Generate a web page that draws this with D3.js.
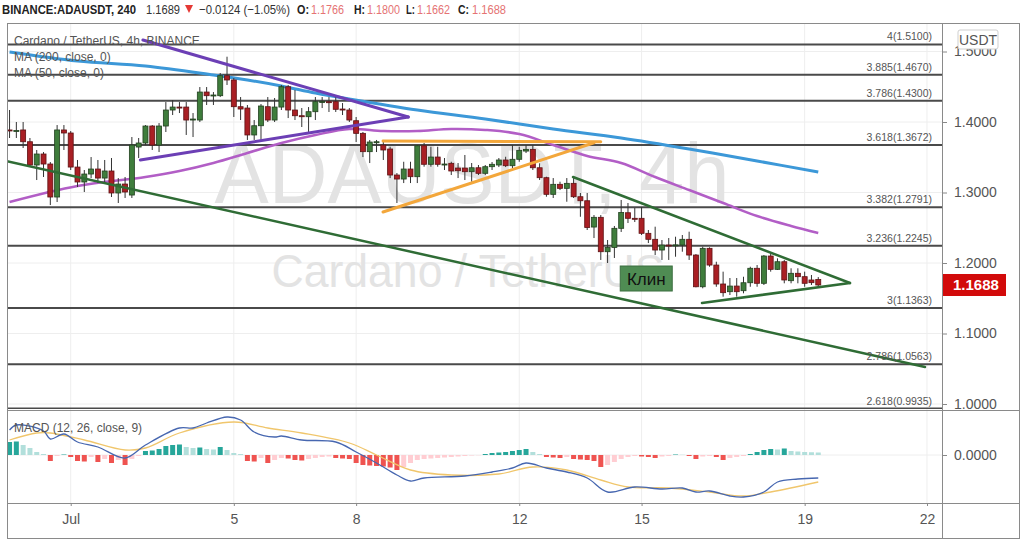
<!DOCTYPE html>
<html>
<head>
<meta charset="utf-8">
<script src="https://cdn.jsdelivr.net/npm/d3@7"></script>
<style>
  body { margin: 0; background: #fff; }
  svg { display: block; font-family: "Liberation Sans", Arial, sans-serif; }
</style>
</head>
<body>
<svg id="chart" width="1024" height="543"></svg>
<script>
// ---- data (4h candles, Jun 29 12:00 UTC .. Jul 19 08:00 UTC) ----
const firstCandle = Date.UTC(2021, 5, 29, 12)
const opens = [
  1.3887,1.3875,1.3887,1.3720,1.3390,1.3546,1.3404,1.2936,1.3887,1.3844,
  1.3361,1.3149,1.3262,1.3333,1.3205,1.3305,1.2993,1.3120,1.2964,1.3645,
  1.3702,1.3943,1.3673,1.3943,1.4170,1.4212,1.4212,1.4028,1.4028,1.4425,
  1.4373,1.4373,1.4657,1.4596,1.4217,1.4198,1.3816,1.3947,1.4217,1.4028,
  1.4212,1.4500,1.4170,1.4089,1.4075,1.4146,1.4288,1.4288,1.4288,1.4184,
  1.4170,1.4018,1.3839,1.3579,1.3716,1.3673,1.3617,1.3248,1.3191,1.3333,
  1.3224,1.3663,1.3400,1.3503,1.3400,1.3414,1.3347,1.3347,1.3295,1.3351,
  1.3272,1.3366,1.3390,1.3461,1.3380,1.3471,1.3588,1.3612,1.3351,1.3210,
  1.2974,1.3116,1.3059,1.3130,1.2940,1.2883,1.2510,1.2648,1.2160,1.2220,
  1.2492,1.2713,1.2634,1.2634,1.2421,1.2336,1.2184,1.2255,1.2253,1.2255,
  1.2336,1.2113,1.1663,1.2208,1.1971,1.1702,1.1593,1.1673,1.1607,1.1720,
  1.1925,1.1712,1.2099,1.1910,1.2018,1.1749,1.1854,1.1806,1.1759,1.1766
]
const highs = [
  1.4170,1.4000,1.4000,1.3773,1.3603,1.3574,1.3432,1.3957,1.3957,1.3872,
  1.3461,1.3319,1.3503,1.3461,1.3461,1.3489,1.3205,1.3220,1.3787,1.3773,
  1.3957,1.3957,1.3985,1.4283,1.4312,1.4283,1.4283,1.4127,1.4496,1.4496,
  1.4425,1.4695,1.4926,1.4624,1.4354,1.4241,1.4028,1.4255,1.4354,1.4340,
  1.4524,1.4524,1.4454,1.4198,1.4212,1.4354,1.4354,1.4354,1.4354,1.4269,
  1.4198,1.4071,1.3858,1.3745,1.3745,1.3745,1.3649,1.3276,1.3436,1.3436,
  1.3673,1.3702,1.3649,1.3649,1.3489,1.3436,1.3418,1.3532,1.3418,1.3390,
  1.3390,1.3432,1.3489,1.3507,1.3673,1.3649,1.3673,1.3673,1.3414,1.3224,
  1.3205,1.3153,1.3205,1.3205,1.2993,1.2993,1.2680,1.2680,1.2326,1.2525,
  1.2894,1.2851,1.2780,1.2794,1.2468,1.2515,1.2326,1.2354,1.2373,1.2397,
  1.2444,1.2127,1.2231,1.2222,1.2018,1.1877,1.1787,1.1787,1.1805,1.1947,
  1.1971,1.2113,1.2137,1.2066,1.2043,1.1925,1.1925,1.1877,1.1830,1.1800
]
const lows = [
  1.3773,1.3773,1.3631,1.3361,1.3177,1.3220,1.2822,1.2865,1.3603,1.3319,
  1.3078,1.3007,1.3205,1.3134,1.3134,1.2936,1.2851,1.2922,1.2922,1.3489,
  1.3673,1.3603,1.3574,1.3858,1.4099,1.4127,1.3816,1.3787,1.4000,1.4241,
  1.4241,1.4354,1.4525,1.4071,1.4028,1.3745,1.3745,1.3745,1.4000,1.4000,
  1.4170,1.4056,1.4028,1.3929,1.3858,1.4028,1.4198,1.4142,1.4142,1.4099,
  1.4000,1.3716,1.3503,1.3418,1.3574,1.3461,1.3205,1.2851,1.3134,1.3134,
  1.3134,1.3366,1.3366,1.3366,1.3319,1.3248,1.3205,1.3177,1.3153,1.3248,
  1.3248,1.3319,1.3361,1.3361,1.3347,1.3436,1.3560,1.3319,1.3177,1.2940,
  1.2922,1.3035,1.2869,1.2922,1.2656,1.2468,1.2354,1.2043,1.2000,1.2071,
  1.2440,1.2567,1.2581,1.2397,1.2283,1.2113,1.2043,1.2043,1.2089,1.2160,
  1.2043,1.1655,1.1641,1.1947,1.1663,1.1522,1.1546,1.1522,1.1570,1.1663,
  1.1663,1.1688,1.1877,1.1901,1.1712,1.1712,1.1712,1.1663,1.1688,1.1662
]
const closes = [
  1.3873,1.3880,1.3720,1.3390,1.3546,1.3404,1.2936,1.3887,1.3844,1.3361,
  1.3149,1.3262,1.3333,1.3205,1.3305,1.2993,1.3120,1.3007,1.3673,1.3702,
  1.3943,1.3673,1.3943,1.4170,1.4212,1.4205,1.4028,1.4042,1.4425,1.4373,
  1.4383,1.4657,1.4596,1.4217,1.4184,1.3816,1.3947,1.4227,1.4028,1.4212,
  1.4500,1.4170,1.4089,1.4085,1.4146,1.4288,1.4290,1.4285,1.4180,1.4177,
  1.4028,1.3839,1.3579,1.3716,1.3720,1.3603,1.3248,1.3191,1.3333,1.3224,
  1.3663,1.3400,1.3503,1.3400,1.3404,1.3305,1.3309,1.3295,1.3351,1.3272,
  1.3366,1.3400,1.3461,1.3380,1.3471,1.3598,1.3612,1.3351,1.3210,1.2974,
  1.3116,1.3059,1.3130,1.2940,1.2883,1.2503,1.2648,1.2160,1.2220,1.2492,
  1.2716,1.2634,1.2631,1.2421,1.2336,1.2184,1.2255,1.2253,1.2257,1.2336,
  1.2113,1.1663,1.2208,1.1971,1.1702,1.1579,1.1673,1.1593,1.1720,1.1925,
  1.1712,1.2099,1.1910,1.2018,1.1759,1.1854,1.1806,1.1712,1.1721,1.1688
]

// moving averages (sampled at candle indexes)
const ma200Idx = [0,10,20,30,35,40,45,50,60,70,80,90,100,110,119]
const ma200Val = [1.4993,1.4865,1.4794,1.4667,1.4596,1.4511,1.4411,1.4326,1.4170,1.4043,1.3901,1.3773,1.3617,1.3447,1.3291]
const ma50Idx = [0,10,20,25,30,35,40,45,50,55,60,65,70,75,80,85,90,95,100,105,110,115,119]
const ma50Val = [1.2865,1.3092,1.3220,1.3305,1.3419,1.3561,1.3702,1.3816,1.3901,1.3872,1.3872,1.3901,1.3887,1.3830,1.3674,1.3518,1.3419,1.3220,1.3035,1.2851,1.2666,1.2525,1.2426]

// MACD panel
const macdIdx = [0,1,5,6,8,10,13,17,20,25,27,29,32,34,36,39,40,43,48,51,54,57,59,61,67,71,74,76,79,82,85,88,92,96,99,101,103,106,108,111,113,116,119]
const macdVal = [0.0100,0.0120,0.0096,0.0064,0.0084,0.0052,0.0032,-0.0012,0.0040,0.0108,0.0108,0.0128,0.0152,0.0140,0.0092,0.0072,0.0076,0.0060,0.0052,0.0012,-0.0032,-0.0080,-0.0104,-0.0092,-0.0084,-0.0068,-0.0052,-0.0032,-0.0052,-0.0068,-0.0092,-0.0148,-0.0128,-0.0136,-0.0132,-0.0148,-0.0144,-0.0164,-0.0168,-0.0148,-0.0108,-0.0096,-0.0092]
const signalIdx = [0,4,6,11,17,20,25,33,38,43,50,54,59,65,72,77,82,87,91,97,103,108,112,119]
const signalVal = [0.0060,0.0088,0.0088,0.0060,0.0020,0.0028,0.0088,0.0132,0.0108,0.0088,0.0048,0.0000,-0.0060,-0.0080,-0.0076,-0.0048,-0.0060,-0.0100,-0.0128,-0.0132,-0.0148,-0.0164,-0.0148,-0.0108]
const hist = [
  0.0052,0.0054,0.0040,0.0028,0.0012,0.0004,-0.0024,-0.0004,0.0002,-0.0008,
  -0.0024,-0.0026,-0.0008,-0.0028,-0.0016,-0.0032,-0.0020,-0.0040,-0.0016,-0.0004,
  0.0016,0.0018,0.0024,0.0036,0.0040,0.0042,0.0032,0.0028,0.0030,0.0024,
  0.0022,0.0032,0.0020,0.0008,0.0004,-0.0024,-0.0026,-0.0012,-0.0032,-0.0020,
  -0.0012,-0.0014,-0.0020,-0.0022,-0.0016,-0.0012,-0.0008,-0.0006,-0.0012,-0.0014,
  -0.0016,-0.0032,-0.0040,-0.0042,-0.0044,-0.0046,-0.0050,-0.0060,-0.0048,-0.0032,
  -0.0020,-0.0016,-0.0014,-0.0012,-0.0010,-0.0008,-0.0006,-0.0004,-0.0002,-0.0001,
  0.0004,0.0008,0.0010,0.0012,0.0016,0.0020,0.0024,0.0012,0.0004,-0.0008,
  -0.0010,-0.0012,-0.0008,-0.0016,-0.0018,-0.0020,-0.0024,-0.0048,-0.0040,-0.0028,
  -0.0016,-0.0008,-0.0004,-0.0006,-0.0008,-0.0012,-0.0006,-0.0004,0.0002,0.0001,
  -0.0004,-0.0016,-0.0006,-0.0004,-0.0008,-0.0020,-0.0012,-0.0008,-0.0004,0.0004,
  0.0012,0.0020,0.0024,0.0022,0.0026,0.0016,0.0014,0.0012,0.0011,0.0010
]

// fibonacci extension levels
const fibLevels = ["4", "3.885", "3.786", "3.618", "3.382", "3.236", "3", "2.786", "2.618"]
const fibPrices = [1.5100, 1.4670, 1.4300, 1.3672, 1.2791, 1.2245, 1.1363, 1.0563, 0.9935]

// axis ticks
const priceTicks = [1.0, 1.1, 1.2, 1.3, 1.4, 1.5]
const dateTicks = [Date.UTC(2021,6,1), Date.UTC(2021,6,5), Date.UTC(2021,6,8), Date.UTC(2021,6,12), Date.UTC(2021,6,15), Date.UTC(2021,6,19), Date.UTC(2021,6,22)]
const dateTickLabels = ["Jul", "5", "8", "12", "15", "19", "22"]

// hand drawn lines: [time, price] pairs
const purpleLines = [
  [[Date.UTC(2021,6,2,18,30), 1.5163], [Date.UTC(2021,6,9,6,40), 1.4071]],
  [[Date.UTC(2021,6,2,17,0), 1.3461], [Date.UTC(2021,6,9,6,40), 1.4071]]
]
const orangeLines = [
  [[Date.UTC(2021,6,8,15,50), 1.3731], [Date.UTC(2021,6,14,0,0), 1.3720]],
  [[Date.UTC(2021,6,8,15,50), 1.2723], [Date.UTC(2021,6,13,20,0), 1.3705]]
]
const greenLines = [
  [[Date.UTC(2021,6,13,7,40), 1.3220], [Date.UTC(2021,6,20,2,40), 1.1716]],
  [[Date.UTC(2021,6,16,11,35), 1.1433], [Date.UTC(2021,6,20,2,40), 1.1716]],
  [[Date.UTC(2021,5,29,10,30), 1.3444], [Date.UTC(2021,6,21,22,50), 1.0525]]
]
const wedgeLabel = { text: "Клин", t: Date.UTC(2021,6,15,2,45), p: 1.1780 }
const lastPrice = 1.1688

// ---- layout ----
const svg = d3.select("#chart")
const L = 7, R = 942, T = 23, MAIN_B = 409, MACD_B = 503, BOTTOM = 538, RIGHT = 1019
const H4 = 4 * 3600e3
const dates = opens.map((d, i) => new Date(firstCandle + i * H4))

const xScale = d3.scaleUtc()
  .domain([new Date(Date.UTC(2021,5,29,10,30)), new Date(Date.UTC(2021,6,22,8,50))])
  .range([L, R])
const yScale = d3.scaleLinear().domain([1.0, 1.5]).range([404, 51.5])
const yMacd = d3.scaleLinear().domain([-0.0192, 0.0184]).range([MACD_B, MAIN_B])

svg.append("defs").append("clipPath").attr("id", "mainClip")
  .append("rect").attr("x", L).attr("y", T).attr("width", R - L).attr("height", MAIN_B - T)

// grid
const grid = svg.append("g")
grid.selectAll(".hg").data(priceTicks).enter().append("line")
  .attr("x1", L).attr("x2", R).attr("y1", d => yScale(d)).attr("y2", d => yScale(d))
  .attr("stroke", "#eeeeee")
grid.selectAll(".vg").data(dateTicks).enter().append("line")
  .attr("x1", d => xScale(d)).attr("x2", d => xScale(d)).attr("y1", T).attr("y2", MACD_B)
  .attr("stroke", "#eeeeee")

// watermark
svg.append("text").attr("x", 472).attr("y", 203).attr("text-anchor", "middle")
  .attr("font-size", 86).attr("fill", "#e3e3e3")
  .attr("textLength", 515).attr("lengthAdjust", "spacingAndGlyphs")
  .text("ADAUSDT, 4h")
svg.append("text").attr("x", 468).attr("y", 287).attr("text-anchor", "middle")
  .attr("font-size", 46).attr("fill", "#e3e3e3")
  .attr("textLength", 393).attr("lengthAdjust", "spacingAndGlyphs")
  .text("Cardano / TetherUS")

const main = svg.append("g").attr("clip-path", "url(#mainClip)")

// fib lines
main.selectAll(".fib").data(fibPrices).enter().append("line")
  .attr("x1", L).attr("x2", R).attr("y1", d => yScale(d)).attr("y2", d => yScale(d))
  .attr("stroke", "#4a4a4a").attr("stroke-width", 2)
svg.selectAll(".fibl").data(fibPrices).enter().append("text")
  .attr("x", 932).attr("y", d => yScale(d) - 4).attr("text-anchor", "end")
  .attr("font-size", 10.5).attr("fill", "#555")
  .text((d, i) => fibLevels[i] + "(" + d.toFixed(4) + ")")

// moving averages
const curve = d3.line().curve(d3.curveCatmullRom)
main.append("path")
  .attr("d", curve(ma200Idx.map((idx, k) => [xScale(dates[idx]), yScale(ma200Val[k])])))
  .attr("fill", "none").attr("stroke", "#3c98d8").attr("stroke-width", 3)
main.append("path")
  .attr("d", curve(ma50Idx.map((idx, k) => [xScale(dates[idx]), yScale(ma50Val[k])])))
  .attr("fill", "none").attr("stroke", "#b25ec6").attr("stroke-width", 2.5)

// candles
const candles = main.selectAll(".candle").data(dates).enter().append("g")
candles.append("line")
  .attr("x1", d => xScale(d)).attr("x2", d => xScale(d))
  .attr("y1", (d, i) => yScale(highs[i])).attr("y2", (d, i) => yScale(lows[i]))
  .attr("stroke", "#333").attr("stroke-width", 1)
candles.append("rect")
  .attr("x", d => xScale(d) - 2.5).attr("width", 5)
  .attr("y", (d, i) => yScale(Math.max(opens[i], closes[i])))
  .attr("height", (d, i) => Math.max(1, Math.abs(yScale(opens[i]) - yScale(closes[i]))))
  .attr("fill", (d, i) => closes[i] >= opens[i] ? "#3f7d3c" : "#a91f24")
  .attr("stroke", (d, i) => closes[i] >= opens[i] ? "#22401f" : "#5e1214")
  .attr("stroke-width", 0.8)

// hand drawn lines
const seg = d3.line().x(d => xScale(d[0])).y(d => yScale(d[1]))
const drawLines = (lines, color, w) => {
  main.selectAll(null).data(lines).enter().append("path")
    .attr("d", seg).attr("fill", "none").attr("stroke", color)
    .attr("stroke-width", w).attr("stroke-linecap", "round")
}
drawLines(purpleLines, "#6c3fb5", 3)
drawLines(orangeLines, "#f3a73b", 3)
drawLines(greenLines, "#2f6c35", 2.5)

// wedge label
const wl = svg.append("g")
  .attr("transform", "translate(" + xScale(wedgeLabel.t) + "," + yScale(wedgeLabel.p) + ")")
wl.append("rect").attr("x", -26).attr("y", -12.5).attr("width", 52).attr("height", 25)
  .attr("fill", "#4f8c53").attr("stroke", "#3c6f40")
wl.append("text").attr("text-anchor", "middle").attr("y", 6).attr("font-size", 17)
  .attr("fill", "#111").text(wedgeLabel.text)

// legend
const legend = [["Cardano / TetherUS, 4h, BINANCE", 45], ["MA (200, close, 0)", 61], ["MA (50, close, 0)", 77]]
svg.selectAll(".leg").data(legend).enter().append("text")
  .attr("x", 14).attr("y", d => d[1]).attr("font-size", 12).attr("fill", "#555")
  .text(d => d[0])

// MACD histogram
const barColor = (v, prev) => v >= 0 ? (v >= prev ? "#26a69a" : "#b2dfdb") : (v < prev ? "#ef5350" : "#ffcdd2")
svg.append("line").attr("x1", L).attr("x2", R).attr("y1", yMacd(0)).attr("y2", yMacd(0)).attr("stroke", "#eeeeee")
svg.selectAll(".hb").data(hist).enter().append("rect")
  .attr("x", (d, i) => xScale(dates[i]) - 2.5).attr("width", 5)
  .attr("y", d => yMacd(Math.max(0, d)))
  .attr("height", d => Math.abs(yMacd(d) - yMacd(0)))
  .attr("fill", (d, i) => barColor(d, i > 0 ? hist[i - 1] : 0))

const macdLine = d3.line().curve(d3.curveCatmullRom)
svg.append("path")
  .attr("d", macdLine(signalIdx.map((idx, k) => [xScale(dates[idx]), yMacd(signalVal[k])])))
  .attr("fill", "none").attr("stroke", "#f0c66c").attr("stroke-width", 1.3)
svg.append("path")
  .attr("d", macdLine(macdIdx.map((idx, k) => [xScale(dates[idx]), yMacd(macdVal[k])])))
  .attr("fill", "none").attr("stroke", "#4767b0").attr("stroke-width", 1.3)
svg.append("text").attr("x", 14).attr("y", 432).attr("font-size", 12).attr("fill", "#555")
  .text("MACD (12, 26, close, 9)")

// frame
const frame = svg.append("g").attr("stroke", "#8a8a8a").attr("fill", "none")
frame.append("rect").attr("x", L + 0.5).attr("y", T + 0.5).attr("width", RIGHT - L).attr("height", BOTTOM - T)
frame.append("line").attr("x1", R + 0.5).attr("x2", R + 0.5).attr("y1", T).attr("y2", BOTTOM)
frame.append("line").attr("x1", L).attr("x2", RIGHT).attr("y1", MACD_B + 0.5).attr("y2", MACD_B + 0.5)
frame.append("line").attr("x1", L).attr("x2", RIGHT).attr("y1", MAIN_B + 1.5).attr("y2", MAIN_B + 1.5)

// price axis
const yAxis = d3.axisRight(yScale).tickValues(priceTicks).tickFormat(d3.format(".4f")).tickSize(5).tickPadding(7)
const ya = svg.append("g").attr("transform", "translate(" + R + ",0)").call(yAxis)
ya.select(".domain").remove()
ya.selectAll("text").attr("font-size", 14).attr("fill", "#555").style("font-family", "Liberation Sans, Arial, sans-serif")
ya.selectAll("line").attr("stroke", "#888")

const mAxis = d3.axisRight(yMacd).tickValues([0]).tickFormat(d3.format(".4f")).tickSize(5).tickPadding(7)
const ma = svg.append("g").attr("transform", "translate(" + R + ",0)").call(mAxis)
ma.select(".domain").remove()
ma.selectAll("text").attr("font-size", 14).attr("fill", "#555").style("font-family", "Liberation Sans, Arial, sans-serif")
ma.selectAll("line").attr("stroke", "#888")

// date axis
const xAxis = d3.axisBottom(xScale).tickValues(dateTicks.map(d => new Date(d)))
  .tickFormat((d, i) => dateTickLabels[i]).tickSize(3).tickPadding(8)
const xa = svg.append("g").attr("transform", "translate(0," + MACD_B + ")").call(xAxis)
xa.select(".domain").remove()
xa.selectAll("text").attr("font-size", 14).attr("fill", "#555").style("font-family", "Liberation Sans, Arial, sans-serif")
xa.selectAll("line").attr("stroke", "#888")

// USDT box and last price label
svg.append("rect").attr("x", 958).attr("y", 30).attr("width", 40).attr("height", 19).attr("rx", 2)
  .attr("fill", "#fff").attr("stroke", "#cfcfcf")
svg.append("text").attr("x", 978).attr("y", 45).attr("text-anchor", "middle").attr("font-size", 14)
  .attr("fill", "#555").text("USDT")
svg.append("rect").attr("x", R + 1).attr("y", yScale(lastPrice) - 11).attr("width", 63).attr("height", 22)
  .attr("fill", "#d20a0a")
svg.append("text").attr("x", R + 11).attr("y", yScale(lastPrice) + 5).attr("font-size", 15)
  .attr("font-weight", "bold").attr("fill", "#fff").text(lastPrice.toFixed(4))

// header line
const header = [
  ["BINANCE:ADAUSDT, 240", 2, 134, "#222", "bold"],
  ["1.1689", 146, 34, "#333", "normal"],
  ["−0.0124 (−1.05%)", 199, 91, "#333", "normal"],
  ["O:", 297, 12, "#222", "bold"], ["1.1766", 311, 33, "#e57373", "normal"],
  ["H:", 354, 11, "#222", "bold"], ["1.1800", 367, 33, "#e57373", "normal"],
  ["L:", 406, 9, "#222", "bold"], ["1.1662", 417, 33, "#e57373", "normal"],
  ["C:", 458, 11, "#222", "bold"], ["1.1688", 472, 34, "#e57373", "normal"]
]
svg.selectAll(".hdr").data(header).enter().append("text")
  .attr("x", d => d[1]).attr("y", 14).attr("font-size", 13)
  .attr("fill", d => d[3]).attr("font-weight", d => d[4])
  .attr("textLength", d => d[2]).attr("lengthAdjust", "spacingAndGlyphs")
  .text(d => d[0])
svg.append("path").attr("d", "M185,5 L193,5 L189,13 Z").attr("fill", "#e53935")
</script>
</body>
</html>
